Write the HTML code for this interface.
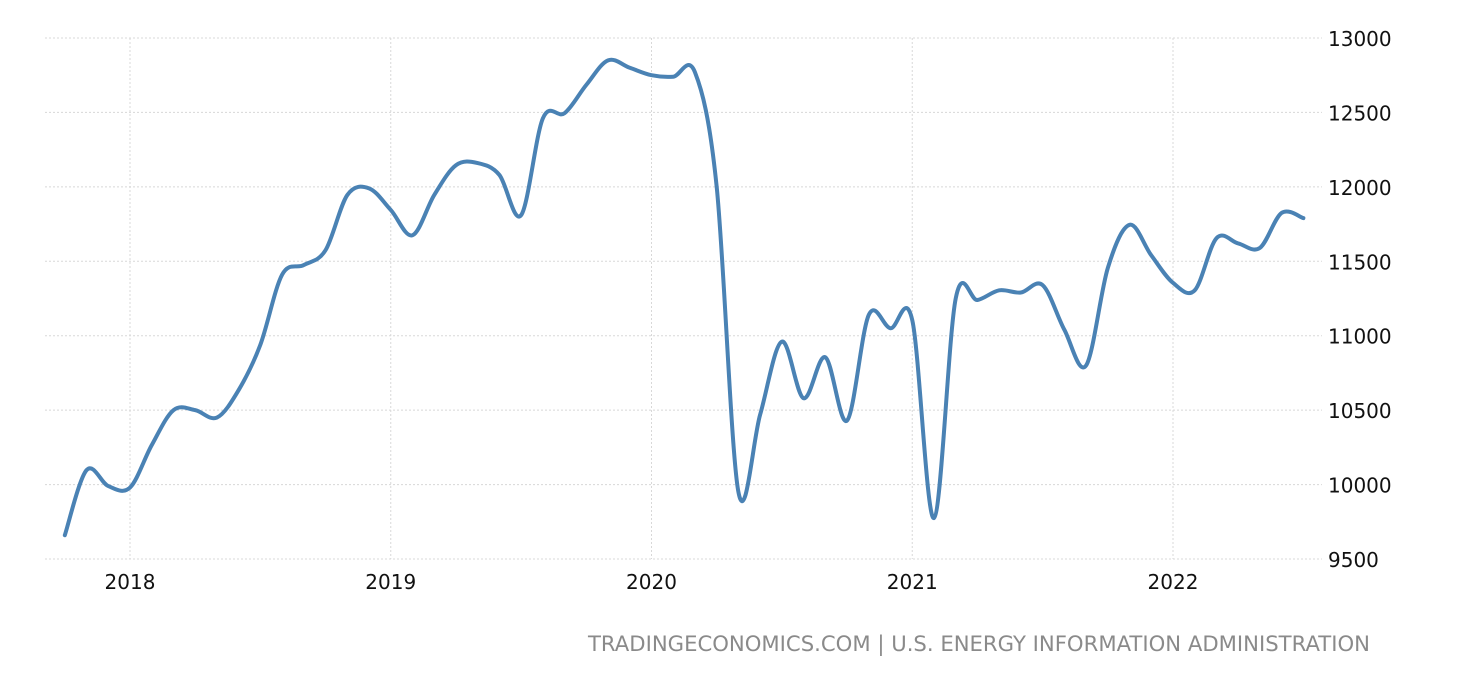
<!DOCTYPE html>
<html><head><meta charset="utf-8"><style>
body{margin:0;background:#fff;width:1460px;height:680px;overflow:hidden;font-family:"DejaVu Sans","Liberation Sans",sans-serif}
text{font-family:"DejaVu Sans","Liberation Sans",sans-serif}
</style></head><body>
<svg id="chart" width="1460" height="680" xmlns="http://www.w3.org/2000/svg"></svg>
<script>
const months = ["2017-10","2017-11","2017-12","2018-01","2018-02","2018-03","2018-04","2018-05","2018-06","2018-07","2018-08","2018-09","2018-10","2018-11","2018-12","2019-01","2019-02","2019-03","2019-04","2019-05","2019-06","2019-07","2019-08","2019-09","2019-10","2019-11","2019-12","2020-01","2020-02","2020-03","2020-04","2020-05","2020-06","2020-07","2020-08","2020-09","2020-10","2020-11","2020-12","2021-01","2021-02","2021-03","2021-04","2021-05","2021-06","2021-07","2021-08","2021-09","2021-10","2021-11","2021-12","2022-01","2022-02","2022-03","2022-04","2022-05","2022-06","2022-07"];
const values = [9660,10097,9990,9980,10265,10500,10500,10450,10635,10940,11410,11475,11575,11945,11990,11845,11675,11945,12145,12160,12080,11810,12460,12495,12685,12850,12800,12750,12740,12770,12000,9950,10470,10960,10580,10855,10430,11140,11050,11105,9775,11250,11240,11305,11290,11340,11040,10800,11455,11745,11540,11355,11305,11655,11620,11590,11825,11790];
const yTicks = [9500,10000,10500,11000,11500,12000,12500,13000];
const xTicks = ["2018","2019","2020","2021","2022"];

const NS="http://www.w3.org/2000/svg";
const svg=document.getElementById('chart');
function xScale(m){const [y,mo]=m.split('-').map(Number);return 130+((y-2018)*12+(mo-1))*260.75/12;}
function yScale(v){return 38+(13000-v)*521/3500;}
function mk(t,a){const e=document.createElementNS(NS,t);for(const k in a)e.setAttribute(k,a[k]);svg.appendChild(e);return e;}

yTicks.forEach(v=>{
  const g=mk('line',{x1:45,x2:1322,y1:yScale(v),y2:yScale(v),stroke:'#d8d8d8','stroke-dasharray':'2,2'});
  
  
  const t=mk('text',{x:1328,y:yScale(v)+8,'font-size':20,fill:'#111'});
  t.textContent=v;
  
  
});
xTicks.forEach(y=>{
  const x=xScale(y+'-01');
  const g=mk('line',{x1:x,x2:x,y1:38,y2:559,stroke:'#d8d8d8','stroke-dasharray':'2,2'});
  
  
  const t=mk('text',{x:x,y:589,'text-anchor':'middle','font-size':20,fill:'#111'});
  t.textContent=y;
  
  
});
const pts=months.map((m,i)=>[xScale(m),yScale(values[i])]);
let d='M'+pts[0][0]+','+pts[0][1];
for(let i=0;i<pts.length-1;i++){
  const p0=pts[Math.max(0,i-1)],p1=pts[i],p2=pts[i+1],p3=pts[Math.min(pts.length-1,i+2)];
  const c1x=p1[0]+(p2[0]-p0[0])/6,c1y=p1[1]+(p2[1]-p0[1])/6;
  const c2x=p2[0]-(p3[0]-p1[0])/6,c2y=p2[1]-(p3[1]-p1[1])/6;
  d+=` C${c1x},${c1y} ${c2x},${c2y} ${p2[0]},${p2[1]}`;
}
const line=mk('path',{d:d,fill:'none',stroke:'#4a82b4','stroke-width':4,'stroke-linejoin':'round','stroke-linecap':'round'});


const src=mk('text',{x:588,y:651,'font-size':21,fill:'#8a8a8a',textLength:782,lengthAdjust:'spacingAndGlyphs'});
src.textContent='TRADINGECONOMICS.COM | U.S. ENERGY INFORMATION ADMINISTRATION';


</script>
</body></html>
